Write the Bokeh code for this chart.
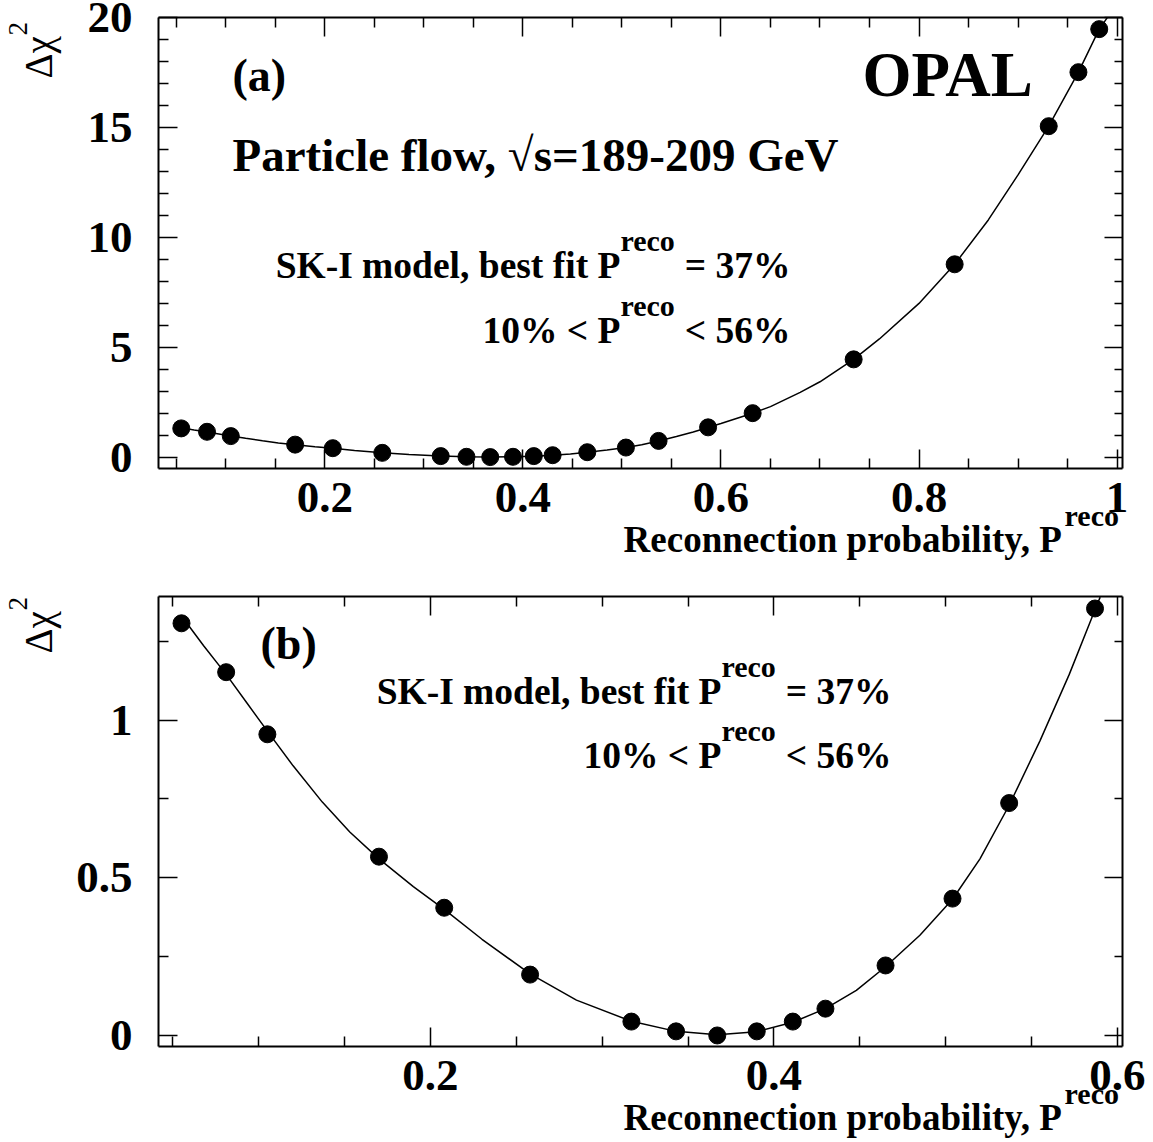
import math
from bokeh.plotting import figure
from bokeh.models import Label, LinearAxis, FixedTicker, Range1d
from bokeh.layouts import column
from bokeh.embed import file_html
from bokeh.resources import INLINE

# ---------------- data ----------------
p_reco = [0.055, 0.081, 0.105, 0.170, 0.208, 0.258, 0.317, 0.343, 0.367, 0.390, 0.411,
          0.430, 0.465, 0.504, 0.537, 0.587, 0.632, 0.734, 0.836, 0.931, 0.961, 0.982]
d_chi2 = [1.307, 1.152, 0.955, 0.567, 0.405, 0.193, 0.044, 0.013, 0.000, 0.013, 0.044,
          0.085, 0.222, 0.434, 0.737, 1.354, 2.00, 4.45, 8.78, 15.07, 17.53, 19.49]

# fitted curve
fit_x = [0.055, 0.068, 0.081, 0.093, 0.105, 0.120, 0.137, 0.153, 0.170, 0.190, 0.208,
         0.230, 0.258, 0.285, 0.317, 0.343, 0.367, 0.390, 0.411, 0.430, 0.448, 0.465,
         0.485, 0.504, 0.520, 0.537, 0.555, 0.572, 0.587, 0.590, 0.600, 0.632, 0.650,
         0.680, 0.700, 0.734, 0.760, 0.800, 0.836, 0.870, 0.900, 0.931, 0.961, 0.982,
         0.990]
fit_y = [1.330, 1.235, 1.145, 1.055, 0.965, 0.855, 0.740, 0.645, 0.560, 0.472, 0.400,
         0.305, 0.195, 0.112, 0.045, 0.013, 0.002, 0.012, 0.042, 0.085, 0.143, 0.218,
         0.318, 0.432, 0.560, 0.730, 0.935, 1.145, 1.350, 1.390, 1.530, 2.000, 2.300,
         2.950, 3.430, 4.450, 5.380, 7.000, 8.780, 10.80, 12.85, 15.07, 17.53, 19.49,
         20.00]

# axis ticks
a_x_ticks = [0.2, 0.4, 0.6, 0.8, 1.0]
a_x_labels = ["0.2", "0.4", "0.6", "0.8", "1"]
a_x_minor = [0.05, 0.10, 0.15, 0.25, 0.30, 0.35, 0.45, 0.50, 0.55, 0.65, 0.70, 0.75,
             0.85, 0.90, 0.95]
a_y_ticks = [0, 5, 10, 15, 20]
a_y_labels = ["0", "5", "10", "15", "20"]
a_y_minor = [1, 2, 3, 4, 6, 7, 8, 9, 11, 12, 13, 14, 16, 17, 18, 19]

b_x_ticks = [0.2, 0.4, 0.6]
b_x_labels = ["0.2", "0.4", "0.6"]
b_x_minor = [0.05, 0.10, 0.15, 0.25, 0.30, 0.35, 0.45, 0.50, 0.55]
b_y_ticks = [0, 0.5, 1.0]
b_y_labels = ["0", "0.5", "1"]
b_y_minor = [0.25, 0.75, 1.25]

# ---------------- helpers ----------------
W = 1153
FONT = "Liberation Serif"
TW = {' ': 250, '%': 1000, '(': 333, ')': 333, ',': 250, '-': 333, '.': 250, '<': 570,
      '=': 570, '0': 500, '1': 500, '2': 500, '3': 500, '4': 500, '5': 500, '6': 500,
      '7': 500, '8': 500, '9': 500, 'A': 722, 'G': 778, 'I': 389, 'K': 778, 'L': 667,
      'O': 778, 'P': 611, 'R': 722, 'S': 556, 'V': 722, 'a': 500, 'b': 556, 'c': 444,
      'd': 556, 'e': 444, 'f': 333, 'i': 278, 'l': 278, 'm': 833, 'n': 556, 'o': 500,
      'p': 556, 'r': 444, 's': 389, 't': 333, 'w': 722, 'y': 500, '\u221a': 549}
BASE_SHIFT = 0.33   # empirical: alphabetic baseline lands this many em below the anchor


def tw(t):
    return sum(TW.get(c, 500) for c in t) / 1000.0


def put(p, H, text, x, y, size, bold=True, angle=0.0):
    """x, y: canvas pixels (from top-left) of the baseline start."""
    if angle == 0.0:
        ax, ay = x, y - BASE_SHIFT * size
    else:
        ax, ay = x - BASE_SHIFT * size, y
    p.add_layout(Label(x=ax, y=H - ay, x_units="screen", y_units="screen", text=text,
                       text_font=FONT, text_font_size=f"{size}px",
                       text_font_style="bold" if bold else "normal",
                       text_align="left", text_baseline="alphabetic",
                       angle=angle, text_color="black"))


def rich(p, H, parts, x_right, y):
    total = sum(tw(t) * s for t, s, _ in parts)
    cx = x_right - total
    for t, s, r in parts:
        lead = len(t) - len(t.lstrip(' '))
        put(p, H, t.strip(' '), cx + lead * 0.25 * s, y - r, s)
        cx += tw(t) * s


def style_axis(ax, ticks, labels, minor, show, standoff, tin=19, tmin=10):
    ax.ticker = FixedTicker(ticks=ticks, minor_ticks=minor)
    ax.major_label_overrides = {t: l for t, l in zip(ticks, labels)}
    ax.axis_line_width = 2
    ax.axis_line_color = "black"
    ax.major_tick_in = tin
    ax.major_tick_out = 0
    ax.minor_tick_in = tmin
    ax.minor_tick_out = 0
    ax.major_tick_line_width = 1.5
    ax.minor_tick_line_width = 1.5
    ax.major_tick_line_color = "black"
    ax.minor_tick_line_color = "black"
    ax.major_label_text_font = FONT
    ax.major_label_text_font_style = "bold"
    ax.major_label_text_color = "black"
    ax.major_label_text_font_size = "45px" if show else "0px"
    ax.major_label_standoff = standoff


def make_panel(H, box, xr, yr, xt, xl, xm, yt, yl, ym):
    L, R, T, B = box
    xpp = (R - L) / (xr[1] - xr[0])
    ypp = (B - T) / (yr[1] - yr[0])
    p = figure(width=W, height=H,
               x_range=Range1d(xr[0] - L / xpp, xr[1] + (W - R) / xpp),
               y_range=Range1d(yr[0] - (H - B) / ypp, yr[1] + T / ypp),
               x_axis_location=None, y_axis_location=None,
               output_backend="svg", toolbar_location=None, min_border=0)
    p.grid.visible = False
    p.outline_line_color = None
    p.background_fill_color = "white"
    p.border_fill_color = "white"

    bot = LinearAxis(fixed_location=yr[0], bounds=xr)
    style_axis(bot, xt, xl, xm, True, 14)
    p.add_layout(bot, "below")
    top = LinearAxis(fixed_location=yr[1], bounds=xr)
    style_axis(top, xt, xl, xm, False, 0)
    p.add_layout(top, "above")
    left = LinearAxis(fixed_location=xr[0], bounds=yr)
    style_axis(left, yt, yl, ym, True, 26)
    p.add_layout(left, "left")
    right = LinearAxis(fixed_location=xr[1], bounds=yr)
    style_axis(right, yt, yl, ym, False, 0, tin=18, tmin=8)
    p.add_layout(right, "right")

    inside = lambda x, y: xr[0] <= x <= xr[1] and yr[0] <= y <= yr[1]
    fi = [i for i in range(len(fit_x)) if inside(fit_x[i], fit_y[i])]
    di = [i for i in range(len(p_reco)) if inside(p_reco[i], d_chi2[i])]
    p.line([fit_x[i] for i in fi], [fit_y[i] for i in fi], line_color="black", line_width=1.5)
    p.scatter([p_reco[i] for i in di], [d_chi2[i] for i in di], size=17, color="black")
    return p


# ---------------- panel (a) ----------------
HA = 580
pa = make_panel(HA, (158, 1122, 17, 468), (0.032, 1.0055), (-0.52, 20.02),
                a_x_ticks, a_x_labels, a_x_minor, a_y_ticks, a_y_labels, a_y_minor)
put(pa, HA, "(a)", 232, 90, 46)
put(pa, HA, "OPAL", 862, 95, 63)
put(pa, HA, "Particle flow, \u221as=189-209 GeV", 232, 170, 47)
rich(pa, HA, [("SK-I model, best fit P", 37.5, 0), ("reco", 30, 27), (" = 37%", 37.5, 0)], 790, 277)
rich(pa, HA, [("10% < P", 37.5, 0), ("reco", 30, 27), (" < 56%", 37.5, 0)], 790, 342)
rich(pa, HA, [("Reconnection probability, P", 37, 0), ("reco", 30, 26)], 1119, 551)
put(pa, HA, "\u0394\u03c7", 51, 78, 39, bold=False, angle=math.pi / 2)
put(pa, HA, "2", 26, 35, 27, bold=False, angle=math.pi / 2)

# ---------------- panel (b) ----------------
HB = 562
pb = make_panel(HB, (158, 1122, 16, 466), (0.0416, 0.603), (-0.035, 1.392),
                b_x_ticks, b_x_labels, b_x_minor, b_y_ticks, b_y_labels, b_y_minor)
put(pb, HB, "(b)", 260, 78, 46)
rich(pb, HB, [("SK-I model, best fit P", 37.5, 0), ("reco", 30, 27), (" = 37%", 37.5, 0)], 891, 123)
rich(pb, HB, [("10% < P", 37.5, 0), ("reco", 30, 27), (" < 56%", 37.5, 0)], 891, 187)
rich(pb, HB, [("Reconnection probability, P", 37, 0), ("reco", 30, 26)], 1119, 549)
put(pb, HB, "\u0394\u03c7", 51, 73, 39, bold=False, angle=math.pi / 2)
put(pb, HB, "2", 26, 30, 27, bold=False, angle=math.pi / 2)

layout = column(pa, pb)
open("out.html", "w").write(file_html(layout, INLINE))
